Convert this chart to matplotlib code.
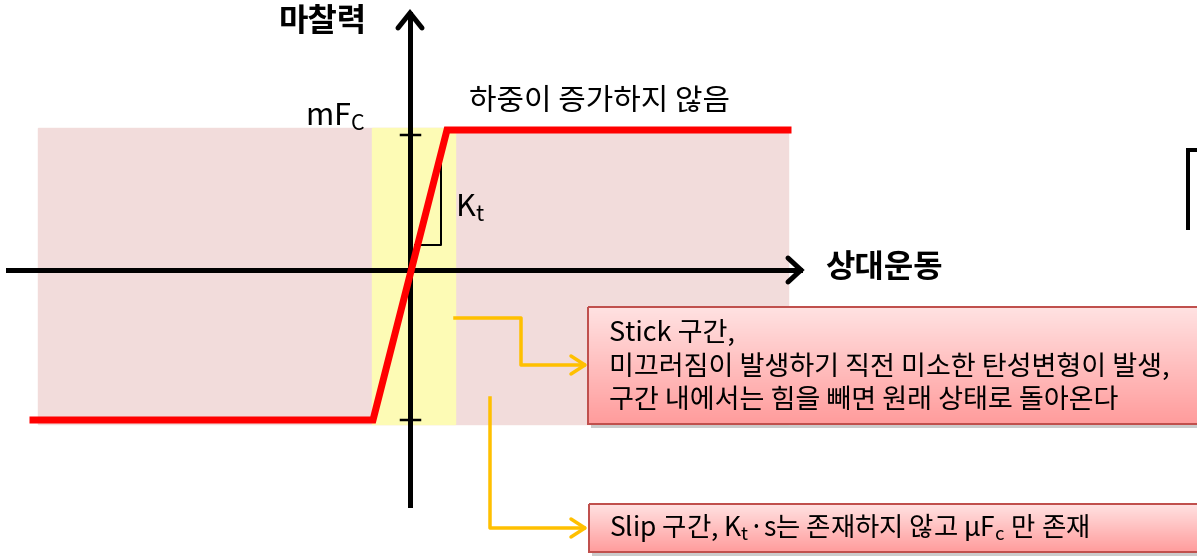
import numpy as np
import matplotlib
matplotlib.use('Agg')
import matplotlib.pyplot as plt
from matplotlib.patches import Rectangle

plt.rcParams['font.family'] = ['Noto Sans CJK KR', 'DejaVu Sans']
plt.rcParams['mathtext.fontset'] = 'custom'
plt.rcParams['mathtext.rm'] = 'Noto Sans CJK KR'
plt.rcParams['mathtext.it'] = 'Noto Sans CJK KR'
plt.rcParams['mathtext.bf'] = 'Noto Sans CJK KR:bold'

# 다이어그램 좌표 (픽셀 단위, y는 아래로 증가)
curve_x = [33, 373, 447, 788]
curve_y = [420, 420, 130, 130]
slip_zone = [38, 788, 128, 424]      # x0, x1, y0, y1
stick_zone = [372, 455]
origin = [410, 270]
tick_y = [135, 420]
kt_tri_x = [415, 441, 441]
kt_tri_y = [245, 245, 165]

stick_lines = ['Stick 구간,',
               '미끄러짐이 발생하기 직전 미소한 탄성변형이 발생,',
               '구간 내에서는 힘을 빼면 원래 상태로 돌아온다']
slip_text = r'Slip 구간, K$_t$·s는 존재하지 않고 μF$_c$ 만 존재'

def px(w):
    return w * 0.72

fig = plt.figure(figsize=(11.97, 5.59), dpi=100)
ax = fig.add_axes([0, 0, 1, 1])
ax.set_xlim(0, 1197)
ax.set_ylim(559, 0)
ax.axis('off')

# 배경 영역
x0, x1, y0, y1 = slip_zone
ax.add_patch(Rectangle((x0, y0), x1 - x0, y1 - y0, color='#F2DCDB', zorder=0))
ax.add_patch(Rectangle((stick_zone[0], y0), stick_zone[1] - stick_zone[0], y1 - y0,
                       color='#FDFBB5', zorder=1))

# 축
ox, oy = origin
ax.plot([8, 800], [oy, oy], color='black', lw=px(5), zorder=3)
ax.plot([788, 801, 788], [258, oy, 282], color='black', lw=px(5), zorder=3,
        solid_capstyle='round', solid_joinstyle='miter')
ax.plot([ox, ox], [505, 14], color='black', lw=px(5), zorder=3)
ax.plot([398, ox, 422], [28, 13, 28], color='black', lw=px(5), zorder=3,
        solid_capstyle='round', solid_joinstyle='miter')
for ty in tick_y:
    ax.plot([401, 420], [ty, ty], color='black', lw=px(2.5), zorder=3)

# Kt 삼각형
ax.plot(kt_tri_x, kt_tri_y, color='black', lw=px(2), zorder=3)

# 마찰 곡선
ax.plot(curve_x, curve_y, color='#FF0000', lw=px(7), zorder=4,
        solid_joinstyle='miter')

# 라벨
ax.text(279, 22, '마찰력', fontsize=23, fontweight='bold', va='center', ha='left')
ax.text(825, 268, '상대운동', fontsize=23, fontweight='bold', va='center', ha='left')
ax.text(469, 101, '하중이 증가하지 않음', fontsize=21.5, va='center', ha='left')
ax.text(305, 117, r'mF$_C$', fontsize=22, va='center', ha='left')
ax.text(455, 208, r'K$_t$', fontsize=22, va='center', ha='left')

# 주황색 연결선
orange = '#FFC000'
ax.plot([455, 521, 521, 584], [318, 318, 365, 365], color=orange, lw=px(3.5), zorder=3)
ax.plot([571, 585, 571], [356, 365, 374], color=orange, lw=px(3.5), zorder=3,
        solid_capstyle='round')
ax.plot([490, 490, 584], [398, 528, 528], color=orange, lw=px(3.5), zorder=3)
ax.plot([571, 585, 571], [519, 528, 537], color=orange, lw=px(3.5), zorder=3,
        solid_capstyle='round')

# 그라데이션 박스
grad = np.linspace(0, 1, 100).reshape(-1, 1)
cmap = matplotlib.colors.LinearSegmentedColormap.from_list('pk', ['#FFE2E2', '#FF9C9C'])

def box(bx0, bx1, by0, by1):
    ax.add_patch(Rectangle((bx0 + 3, by0 + 4), bx1 - bx0, by1 - by0,
                           color='#999999', alpha=0.5, zorder=5, lw=0))
    ax.imshow(grad, extent=[bx0, bx1, by1, by0], cmap=cmap, aspect='auto', zorder=6)
    ax.add_patch(Rectangle((bx0, by0), bx1 - bx0, by1 - by0, fill=False,
                           edgecolor='#C0504D', lw=px(2), zorder=7))

box(588, 1210, 307, 424)
box(589, 1210, 504, 552)
ax.set_xlim(0, 1197)
ax.set_ylim(559, 0)

for i, line in enumerate(stick_lines):
    ax.text(609, 333 + i * 33.5, line, fontsize=19.5, va='center', ha='left', zorder=8)
ax.text(609, 527, slip_text, fontsize=19, va='center', ha='left', zorder=8)

# 오른쪽 가장자리 괄호
ax.plot([1188, 1188, 1197], [228, 150, 150], color='black', lw=px(4), zorder=3,
        solid_joinstyle='miter')

fig.savefig('out.png', dpi=100)
